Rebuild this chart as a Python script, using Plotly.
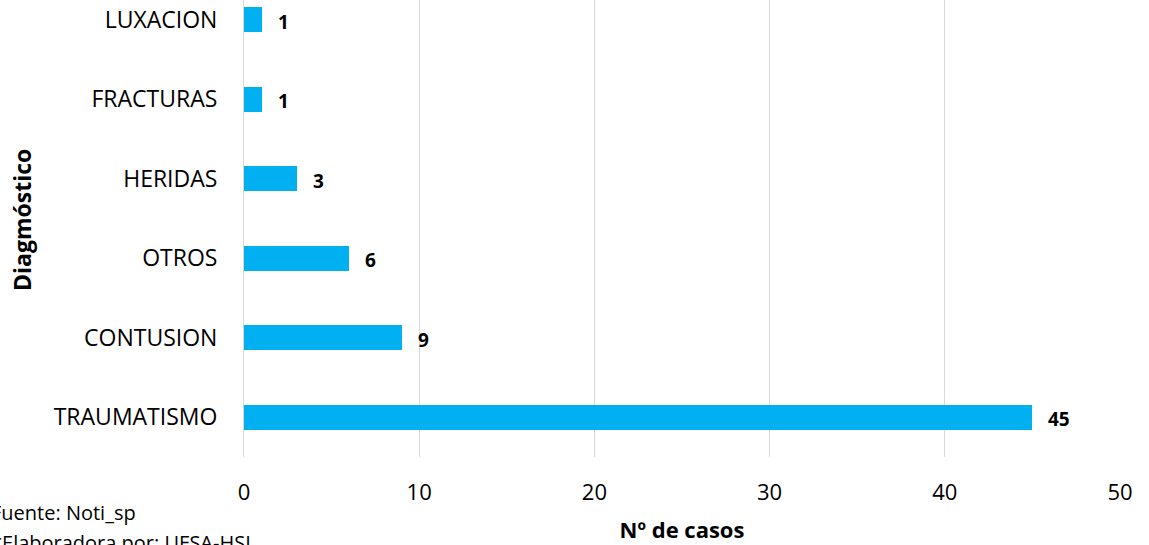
import plotly.graph_objects as go

categories = ["TRAUMATISMO", "CONTUSION", "OTROS", "HERIDAS", "FRACTURAS", "LUXACION"]
values = [45, 9, 6, 3, 1, 1]
x_ticks = [0, 10, 20, 30, 40, 50]

FONT = "'Open Sans', Lato, sans-serif"
BAR = "#00B0F0"

fig = go.Figure()
fig.add_trace(go.Bar(
    y=list(range(len(categories))),
    x=values,
    orientation="h",
    width=0.315,
    marker=dict(color=BAR, line=dict(width=0)),
    hoverinfo="skip",
))

for i, v in enumerate(values):
    fig.add_annotation(
        x=v, y=i, xref="x", yref="y",
        text=f"<b>{v}</b>", showarrow=False,
        xanchor="left", xshift=14, yshift=-2,
        font=dict(family=FONT, size=19, color="#000000"),
    )

fig.add_annotation(
    x=-0.2911, y=-0.1225, xref="paper", yref="paper",
    text="Fuente: Noti_sp", showarrow=False,
    xanchor="left", yanchor="middle",
    font=dict(family=FONT, size=20, color="#000000"),
)
fig.add_annotation(
    x=-0.2911, y=-0.186, xref="paper", yref="paper",
    text="*Elaboradora por: UFSA-HSL", showarrow=False,
    xanchor="left", yanchor="middle",
    font=dict(family=FONT, size=20, color="#000000"),
)
# y-axis title
fig.add_annotation(
    x=-0.2534, y=0.5186, xref="paper", yref="paper",
    text="<b>Diagmóstico</b>", showarrow=False, textangle=-90,
    xanchor="center", yanchor="middle",
    font=dict(family=FONT, size=23, color="#000000"),
)

fig.update_layout(
    width=1149, height=545,
    margin=dict(l=244, r=29, t=0, b=88, autoexpand=False),
    paper_bgcolor="white", plot_bgcolor="white",
    showlegend=False,
    bargap=0,
    font=dict(family=FONT, size=22, color="#000000"),
    xaxis=dict(
        range=[0, 50], tickvals=x_ticks, ticktext=[str(t) for t in x_ticks],
        showgrid=True, gridcolor="#d9d9d9", gridwidth=1,
        zeroline=False, showline=False, ticks="outside", ticklen=16, tickcolor="rgba(0,0,0,0)",
        tickfont=dict(family=FONT, size=22, color="#000000"),
        title=dict(text="<b>Nº de casos</b>", font=dict(family=FONT, size=22), standoff=17),
        automargin=False,
        fixedrange=True,
    ),
    yaxis=dict(
        range=[-0.5, 5.25],
        tickvals=list(range(len(categories))), ticktext=categories,
        showgrid=False, zeroline=False,
        showline=True, linecolor="#d9d9d9", linewidth=1,
        ticks="outside", ticklen=21, tickcolor="rgba(0,0,0,0)",
        tickfont=dict(family=FONT, size=23, color="#000000"),
        automargin=False,
        fixedrange=True,
    ),
)

fig.write_html("out.html", config={"displayModeBar": False},
               post_script="document.body.style.margin='0';")
